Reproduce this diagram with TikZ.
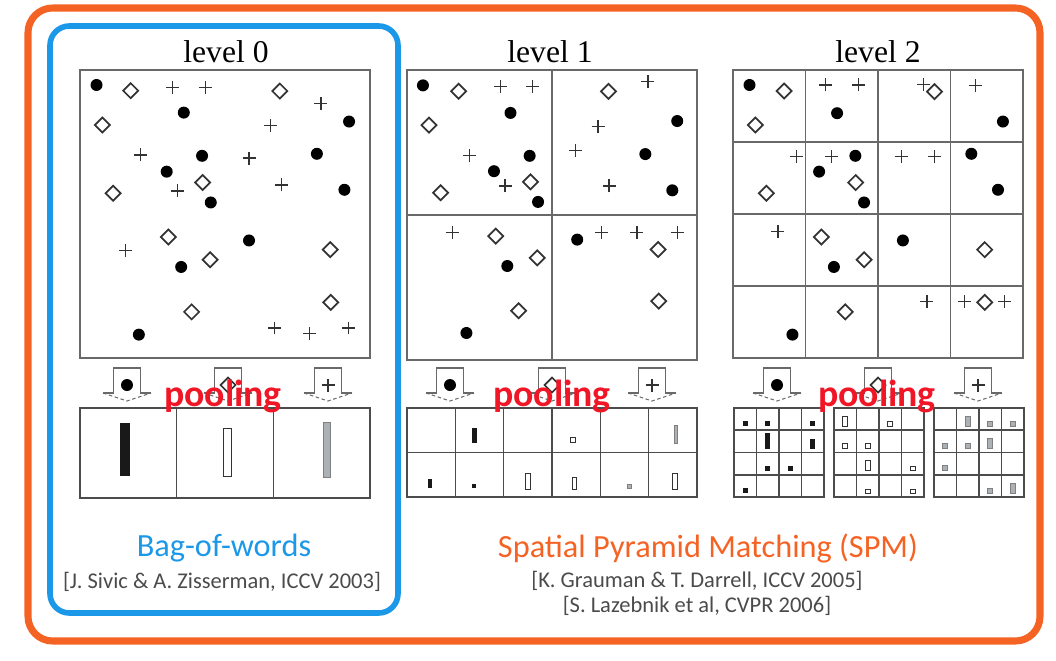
\documentclass[tikz,border=0pt]{standalone}
\usepackage{fontspec}
\setmainfont{Liberation Serif}
\newfontfamily\calibri{Carlito}
\usepackage{xcolor}
\usetikzlibrary{calc}
\definecolor{SpmOrange}{RGB}{245,99,36}
\definecolor{BowBlue}{RGB}{28,152,232}
\definecolor{PoolRed}{RGB}{240,22,38}
\definecolor{FrameGray}{RGB}{105,105,105}
\definecolor{CiteGray}{RGB}{75,75,75}
\definecolor{BarGray}{RGB}{172,177,182}
\tikzset{
  cell/.style={draw=FrameGray, line width=0.8pt},
  hcell/.style={draw=black!70, line width=0.9pt},
  blackbar/.style={fill=black!90},
  whitebar/.style={draw=black!80, fill=white, line width=0.5pt},
  graybar/.style={draw=black!50, fill=BarGray, line width=0.4pt},
  levellabel/.style={font=\fontsize{18}{20}\selectfont},
  poollabel/.style={font=\calibri\bfseries\fontsize{21.5}{24}\selectfont, text=PoolRed},
  titlelabel/.style={font=\calibri\fontsize{18.4}{22}\selectfont},
  citelabel/.style={font=\calibri\fontsize{12.8}{15}\selectfont, text=CiteGray},
  dotmark/.pic={\fill (0,0) circle (0.12cm);},
  diamark/.pic={\draw[line width=1pt, black!80] (0.15cm,0) -- (0,0.15cm) -- (-0.15cm,0) -- (0,-0.15cm) -- cycle;},
  plusmark/.pic={\draw[line width=0.7pt, black!80] (-0.13cm,0) -- (0.13cm,0) (0,-0.13cm) -- (0,0.13cm);},
  poolarrow/.pic={
    \draw[FrameGray, line width=0.7pt] (-24,25) -- (-13.5,25) -- (-13.5,0) -- (13.5,0) -- (13.5,25) -- (24,25);
    \draw[FrameGray, line width=0.6pt, dash pattern=on 2pt off 1.5pt] (-24,25) -- (0,33) -- (24,25);
  }
}
\newcommand{\histbar}[5]{\path[#1] ({#2-#5/2},#3) rectangle ({#2+#5/2},#4);}

\begin{document}
\begin{tikzpicture}[x=0.02cm, y=-0.02cm]
\useasboundingbox (0,0) rectangle (1056,660);
\draw[SpmOrange, line width=4pt, rounded corners=14pt] (28,8) rectangle (1040,641);
\draw[BowBlue, line width=3.2pt, rounded corners=11pt] (50,26) rectangle (398,613);

% level 0
\node[levellabel] (lvl0) at (226,52) {level 0};
\draw[cell] (80,70) rectangle (370,358);
\begin{scope}[shift={(80,70)}, x=5.8cm, y=-5.76cm]
\foreach \u/\v in {0.057/0.052, 0.358/0.148, 0.928/0.179, 0.421/0.298, 0.817/0.291, 0.299/0.353, 0.912/0.416, 0.451/0.460, 0.583/0.592, 0.349/0.684, 0.203/0.919}
  \pic at (\u,\v) {dotmark};
\foreach \u/\v in {0.175/0.072, 0.689/0.073, 0.077/0.191, 0.423/0.391, 0.114/0.428, 0.305/0.580, 0.449/0.659, 0.863/0.624, 0.385/0.840, 0.865/0.807}
  \pic at (\u,\v) {diamark};
\foreach \u/\v in {0.320/0.060, 0.432/0.060, 0.831/0.116, 0.657/0.193, 0.208/0.295, 0.583/0.306, 0.337/0.420, 0.695/0.399, 0.158/0.628, 0.671/0.896, 0.791/0.916, 0.926/0.896}
  \pic at (\u,\v) {plusmark};
\end{scope}

% level 1
\node[levellabel] (lvl1) at (550,52) {level 1};
\draw[cell] (407,70) rectangle (697,360);
\draw[cell] (552,70) -- (552,360) (407,215) -- (697,215);
\begin{scope}[shift={(407,70)}, x=5.8cm, y=-5.8cm]
\foreach \u/\v in {0.055/0.053, 0.357/0.148, 0.423/0.296, 0.300/0.349, 0.452/0.455, 0.932/0.176, 0.822/0.290, 0.915/0.415, 0.346/0.676, 0.205/0.907, 0.587/0.585}
  \pic at (\u,\v) {dotmark};
\foreach \u/\v in {0.178/0.073, 0.076/0.190, 0.426/0.386, 0.116/0.423, 0.695/0.074, 0.306/0.573, 0.449/0.648, 0.385/0.830, 0.866/0.619, 0.868/0.797}
  \pic at (\u,\v) {diamark};
\foreach \u/\v in {0.323/0.057, 0.434/0.057, 0.216/0.296, 0.338/0.400, 0.831/0.039, 0.659/0.196, 0.580/0.278, 0.697/0.400, 0.156/0.560, 0.670/0.560, 0.793/0.560, 0.932/0.560}
  \pic at (\u,\v) {plusmark};
\end{scope}

% level 2
\node[levellabel] (lvl2) at (878,52) {level 2};
\draw[cell] (733,70) rectangle (1023,358);
\foreach \k in {1,2,3}
  \draw[cell] ({733+72.5*\k},70) -- ({733+72.5*\k},358) (733,{70+72*\k}) -- (1023,{70+72*\k});
\begin{scope}[shift={(733,70)}, x=5.8cm, y=-5.76cm]
\foreach \u/\v in {0.057/0.052, 0.359/0.150, 0.931/0.179, 0.422/0.298, 0.297/0.353, 0.822/0.291, 0.914/0.416, 0.452/0.460, 0.586/0.592, 0.348/0.684, 0.205/0.919}
  \pic at (\u,\v) {dotmark};
\foreach \u/\v in {0.176/0.073, 0.695/0.075, 0.077/0.191, 0.115/0.428, 0.423/0.391, 0.305/0.580, 0.452/0.659, 0.868/0.624, 0.387/0.840, 0.868/0.807}
  \pic at (\u,\v) {diamark};
\foreach \u/\v in {0.320/0.052, 0.434/0.052, 0.657/0.050, 0.836/0.055, 0.218/0.301, 0.339/0.301, 0.580/0.301, 0.695/0.301, 0.155/0.561, 0.669/0.803, 0.799/0.803, 0.937/0.803}
  \pic at (\u,\v) {plusmark};
\end{scope}

% pooling arrows
\foreach \x in {127,228,328,450,552,652,777,878,978}
  \pic at (\x,368) {poolarrow};
\foreach \x in {127,450,777}
  \pic at (\x,385) {dotmark};
\foreach \x in {228,552,878}
  \pic at (\x,385) {diamark};
\foreach \x in {328,652,978}
  \pic at (\x,385) {plusmark};

% histograms
\draw[hcell] (80,408) rectangle (370,498);
\draw[hcell] (176.7,408) -- (176.7,498) (273.3,408) -- (273.3,498);
\histbar{blackbar}{125}{423}{476}{10}
\histbar{whitebar}{227}{428}{476}{8}
\histbar{graybar}{327}{422}{477}{7}

\draw[hcell] (407,408) rectangle (697,497);
\draw[hcell] (407,452.5) -- (697,452.5);
\foreach \k in {1,...,5}
  \draw[hcell] ({407+48.33*\k},408) -- ({407+48.33*\k},497);
\histbar{blackbar}{474}{428}{443}{5}
\histbar{whitebar}{573}{437}{442}{5}
\histbar{graybar}{676}{425}{443}{3}
\histbar{blackbar}{430}{479}{488}{4}
\histbar{blackbar}{474}{484}{488}{4}
\histbar{whitebar}{528}{473}{489}{5}
\histbar{whitebar}{574}{477}{489}{4}
\histbar{graybar}{629}{484}{488}{4}
\histbar{whitebar}{675}{473}{489}{5}

\foreach \gx in {734,834,934} {
  \draw[hcell] (\gx,408) rectangle ({\gx+90},497);
  \foreach \k in {1,2,3}
    \draw[hcell] ({\gx+22.5*\k},408) -- ({\gx+22.5*\k},497) (\gx,{408+22.25*\k}) -- ({\gx+90},{408+22.25*\k});
}
\foreach \c/\r/\h in {0/0/5, 1/0/5, 3/0/5, 1/1/16, 3/1/10, 1/2/5, 2/2/5, 0/3/5}
  {\histbar{blackbar}{734+22.5*\c+11.25}{408+22.25*\r+18.25-\h}{408+22.25*\r+18.25}{5}}
\foreach \c/\r/\h in {0/0/10, 2/0/5, 0/1/5, 1/1/5, 1/2/10, 3/2/4, 1/3/4, 3/3/4}
  {\histbar{whitebar}{834+22.5*\c+11.25}{408+22.25*\r+18.25-\h}{408+22.25*\r+18.25}{5}}
\foreach \c/\r/\h in {1/0/10, 2/0/5, 3/0/5, 0/1/5, 1/1/5, 2/1/10, 0/2/5, 2/3/5, 3/3/10}
  {\histbar{graybar}{934+22.5*\c+11.25}{408+22.25*\r+18.25-\h}{408+22.25*\r+18.25}{5}}

\node[poollabel] (pool0) at (223,396) {pooling};
\node[poollabel] (pool1) at (552,396) {pooling};
\node[poollabel] (pool2) at (877,396) {pooling};

\node[titlelabel, text=BowBlue] (bow) at (224,548) {Bag-of-words};
\node[citelabel] (bowcite) at (222,582) {[J. Sivic \& A. Zisserman, ICCV 2003]};
\node[titlelabel, text=SpmOrange] (spm) at (708,548) {Spatial Pyramid Matching (SPM)};
\node[citelabel] (spmcite1) at (697,581) {[K. Grauman \& T. Darrell, ICCV 2005]};
\node[citelabel] (spmcite2) at (697,606) {[S. Lazebnik et al, CVPR 2006]};
\end{tikzpicture}
\end{document}
